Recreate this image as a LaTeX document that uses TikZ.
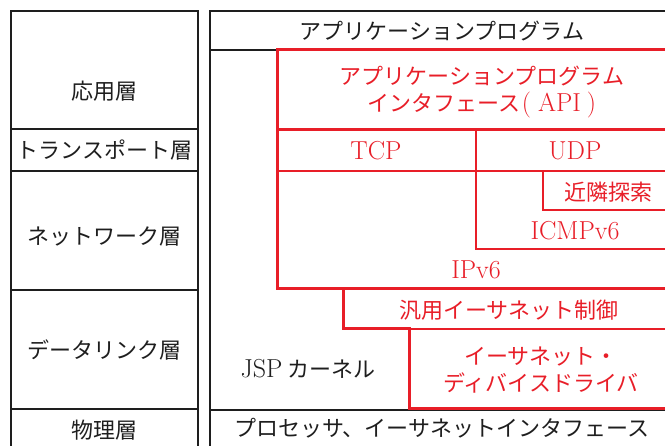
\documentclass[tikz,border=0pt]{standalone}
\usepackage{fontspec}
\newfontfamily\jp{Noto Sans CJK JP}
\definecolor{jred}{RGB}{232,30,40}
\definecolor{jblack}{RGB}{30,30,30}
\newcommand{\lat}{\rmfamily\fontsize{26}{28}\selectfont}
\begin{document}
\begin{tikzpicture}[x=1pt,y=-1pt,
  blk/.style={draw=jblack,line width=2pt},
  blkthin/.style={draw=jblack,line width=1.5pt},
  redo/.style={draw=jred,line width=3pt},
  redi/.style={draw=jred,line width=2pt},
  jlab/.style={font=\jp\fontsize{22}{27}\selectfont, text=jblack, inner sep=0pt, align=center},
  rlab/.style={jlab, text=jred},
  llab/.style={font=\lat, text=jred, inner sep=0pt, align=center},
]
\useasboundingbox (0,0) rectangle (665,446);
\begin{scope}
\clip (0,0) rectangle (665,446);
% left column
\draw[blk] (11,460) |- (198,11) -- (198,460);
\draw[blk] (11,129) -- (198,129);
\draw[blk] (11,171) -- (198,171);
\draw[blk] (11,290) -- (198,290);
\draw[blk] (11,409) -- (198,409);
% right column frame
\draw[blk] (210,460) |- (690,11);
\draw[blkthin] (210,50) -- (277,50);
\draw[blk] (210,410) -- (690,410);
% red structure
\draw[redi] (476,130) -- (476,249) -- (690,249);
\draw[redi] (277,171) -- (690,171);
\draw[redi] (543,171) |- (690,210);
\draw[redi] (343,329) -- (690,329);
\draw[redo] (277,130) -- (690,130);
\draw[redo] (277,289) -- (690,289);
\draw[redo, line join=miter] (690,50) -| (277,289) -- (343,289) |- (409,329) |- (690,409);
\end{scope}
% left labels
\node[jlab] (app) at (104.5,91) {応用層};
\node[jlab] (trans) at (104.5,150) {トランスポート層};
\node[jlab] (net) at (104.5,237) {ネットワーク層};
\node[jlab] (dl) at (104.5,350) {データリンク層};
\node[jlab] (phy) at (104.5,430) {物理層};
% right labels
\node[jlab] (prog) at (442,31) {アプリケーションプログラム};
\node[rlab] (api) at (482,92) {アプリケーションプログラム\\インタフェース{\lat\hspace{1pt}(\hspace{7pt}API\hspace{6pt})}};
\node[llab] (tcp) at (376,151) {TCP};
\node[llab] (udp) at (575,151) {UDP};
\node[rlab] (nd) at (608,192) {近隣探索};
\node[llab] (icmp) at (575,231) {ICMPv6};
\node[llab] (ipv6) at (476,270) {IPv6};
\node[rlab] (gen) at (509,310) {汎用イーサネット制御};
\node[rlab] (drv) at (541,370) {イーサネット・\\ディバイスドライバ};
\node[jlab] (kern) at (308,369) {{\lat JSP} カーネル};
\node[jlab] (hw) at (442,428) {プロセッサ、イーサネットインタフェース};
\end{tikzpicture}
\end{document}
